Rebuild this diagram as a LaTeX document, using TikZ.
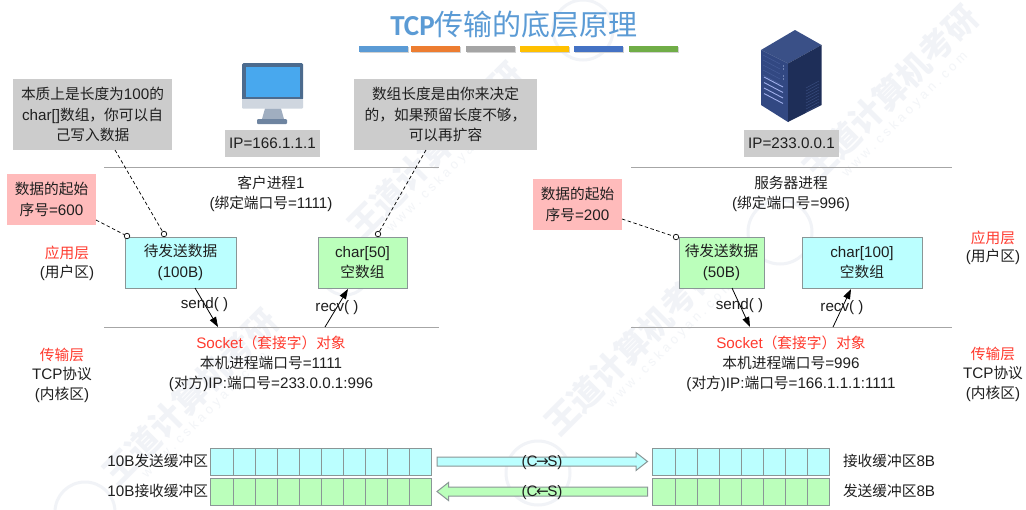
\documentclass[tikz,border=0pt]{standalone}
\usepackage{fontspec}
\setmainfont{Liberation Sans}
\newfontfamily\cjk{Noto Sans CJK SC}
\newcommand{\zh}[1]{{\cjk\fontsize{14.7}{20.5}\selectfont #1}}
\usetikzlibrary{arrows.meta}
\definecolor{cyanbox}{HTML}{BBFFFF}
\definecolor{greenbox}{HTML}{BBFFBB}
\definecolor{pinkbox}{HTML}{FFBBBB}
\definecolor{greybox}{HTML}{CCCCCC}
\definecolor{rulegrey}{HTML}{A6A6A6}
\definecolor{edgegrey}{HTML}{8A9696}
\definecolor{titleblue}{HTML}{5B9BD5}
\definecolor{redtext}{HTML}{FF3B2F}
\definecolor{wm}{HTML}{F1F3F7}
\definecolor{wmtext}{HTML}{F3F5F8}
\tikzset{
  x=1pt,y=-1pt,
  every node/.style={font=\fontsize{15.2}{20.5}\selectfont,inner sep=0pt,outer sep=0pt,align=center,text=black!88},
  redlabel/.style={text=redtext},
  note/.style={fill=greybox},
  pink/.style={fill=pinkbox},
  cellbox/.style={draw=edgegrey,line width=1pt},
  cyanb/.style={cellbox,fill=cyanbox},
  greenb/.style={cellbox,fill=greenbox},
  rule/.style={draw=rulegrey,line width=1pt},
  dashlink/.style={dashed,dash pattern=on 3.5pt off 2.5pt,line width=.7pt,black},
  pin/.style={circle,draw=black,fill=white,line width=.7pt,minimum size=5.5pt},
  callarrow/.style={-{Triangle[length=10pt,width=7pt]},line width=.8pt,black},
  wmark/.style={rotate=45,font=\cjk\bfseries\fontsize{33}{33}\selectfont,text=wm},
  wmurl/.style={rotate=45,font=\fontsize{13}{13}\selectfont,text=wmtext},
  stamp/.style={draw=wm,line width=3pt,circle},
}
\begin{document}
\begin{tikzpicture}
\clip (0,0) rectangle (1026,509);
\fill[white] (0,0) rectangle (1026,509);
% watermark
\node[wmark] (wm1) at (435,150) {王道计算机考研};
\node[wmark] (wm2) at (190,397) {王道计算机考研};
\node[wmark] (wm3) at (632,347) {王道计算机考研};
\node[wmark] (wm4) at (890,93) {王道计算机考研};
\node[wmurl] (wu1) at (450,170) {w w w . c s k a o y a n . c o m};
\node[wmurl] (wu2) at (205,415) {w w w . c s k a o y a n . c o m};
\node[wmurl] (wu3) at (670,345) {w w w . c s k a o y a n . c o m};
\node[wmurl] (wu4) at (905,115) {w w w . c s k a o y a n . c o m};
\node[stamp,minimum size=60pt] (st1) at (583,30) {};
\node[stamp,minimum size=64pt] (st2) at (780,232) {};
\node[stamp,minimum size=64pt] (st3) at (538,473) {};
\node[stamp,minimum size=60pt] (st4) at (85,512) {};
\node[stamp,minimum size=50pt] (st5) at (345,270) {};
% title
\node (title) at (514,25) {\fontsize{29}{30}\selectfont\color{titleblue}{\fontspec{Carlito}\bfseries TCP}{\cjk 传输的底层原理}};
\foreach \n/\a/\c in {1/359/5B9BD5,2/411/ED7D31,3/466/A5A5A5,4/520/FFC000,5/574/4472C4,6/629/70AD47}{
  \definecolor{barc}{HTML}{\c}
  \fill[black!18] (\a+.7,47) rectangle (\a+49.7,53);
  \fill[barc] (\a,46) rectangle (\a+49,52);
}
% monitor
\fill[rounded corners=1.5pt,fill={rgb,255:red,76;green,107;blue,142}] (242,63) rectangle (303,100);
\fill[fill={rgb,255:red,207;green,214;blue,223},rounded corners=1pt] (242,99) rectangle (303,108.5);
\fill[fill={rgb,255:red,72;green,168;blue,238}] (246,67) rectangle (299.5,96.5);
\fill[fill={rgb,255:red,160;green,174;blue,192}] (265,108.5) -- (281,108.5) -- (284,119) -- (262,119) -- cycle;
\fill[rounded corners=1pt,fill={rgb,255:red,110;green,132;blue,160}] (257,119) rectangle (287,124);
% server
\fill[fill={rgb,255:red,58;green,80;blue,135}] (795,30) -- (821.5,45) -- (788,63.5) -- (761,50) -- cycle;
\fill[fill={rgb,255:red,50;green,72;blue,130}] (761,50) -- (788,63.5) -- (788,122) -- (761,105) -- cycle;
\fill[fill={rgb,255:red,30;green,46;blue,88}] (788,63.5) -- (821.5,45) -- (821.5,105) -- (788,122) -- cycle;
\foreach \d in {0,5.5,11,16.5}{
  \draw[line width=.9pt,color={rgb,255:red,160;green,175;blue,235}] (764,77+\d) -- (783,87+\d);
}
\foreach \d in {0,3,6,9,12,15,18,21,24}{
  \draw[line width=.5pt,color={rgb,255:red,55;green,75;blue,125}] (806,88+\d) -- (819,81+\d);
}
\foreach \d in {0,3,10,13}{
  \fill[color={rgb,255:red,175;green,190;blue,230}] (783.5,66+\d) circle (.7);
}
\foreach \d in {0,5,10,15,20}{
  \draw[line width=.4pt,color={rgb,255:red,72;green,95;blue,155}] (763,55+\d) -- (780,64+\d);
}
% IP boxes
\node[note,minimum width=95pt,minimum height=27pt] (ipc) at (272.5,143.5) {IP=166.1.1.1};
\node[note,minimum width=95pt,minimum height=27pt] (ips) at (791.5,143.5) {IP=233.0.0.1};
% notes
\node[note,minimum width=159pt,minimum height=71pt] (noteL) at (92.5,114.5) {\zh{本质上是长度为}100\zh{的}\\char[]\zh{数组，你可以自}\\\zh{己写入数据}};
\node[note,minimum width=183pt,minimum height=71pt] (noteR) at (445.5,114.5) {\zh{数组长度是由你来决定}\\\zh{的，如果预留长度不够，}\\\zh{可以再扩容}};
\node[pink,minimum width=89pt,minimum height=51pt] (pinkL) at (51.5,199.5) {\zh{数据的起始}\\\zh{序号}=600};
\node[pink,minimum width=89pt,minimum height=51pt] (pinkR) at (577.5,204.5) {\zh{数据的起始}\\\zh{序号}=200};
% rules
\coordinate (r1a) at (104,167); \coordinate (r1b) at (439,167);
\coordinate (r2a) at (104,327); \coordinate (r2b) at (439,327);
\coordinate (r3a) at (631,167); \coordinate (r3b) at (952,167);
\coordinate (r4a) at (631,327); \coordinate (r4b) at (952,327);
\draw[rule] (r1a) -- (r1b);
\draw[rule] (r2a) -- (r2b);
\draw[rule] (r3a) -- (r3b);
\draw[rule] (r4a) -- (r4b);
% process labels
\node (procC) at (271,194) {\zh{客户进程}1\\(\zh{绑定端口号}=1111)};
\node (procS) at (791,194) {\zh{服务器进程}\\(\zh{绑定端口号}=996)};
% data boxes
\node[cyanb,minimum width=111pt,minimum height=51pt] (sendC) at (180.5,262.5) {\zh{待发送数据}\\(100B)};
\node[greenb,minimum width=89pt,minimum height=51pt] (recvC) at (362.5,262.5) {char[50]\\\zh{空数组}};
\node[greenb,minimum width=85pt,minimum height=51pt] (sendS) at (721.5,262.5) {\zh{待发送数据}\\(50B)};
\node[cyanb,minimum width=120pt,minimum height=51pt] (recvS) at (862,262.5) {char[100]\\\zh{空数组}};
% pins and dashed links
\node[pin] (p1) at (164,234) {};
\node[pin] (p2) at (127,236) {};
\node[pin] (p3) at (378,234) {};
\node[pin] (p4) at (676,237) {};
\coordinate (d1) at (115,150); \coordinate (d2) at (96,220);
\coordinate (d3) at (426,150); \coordinate (d4) at (622,219);
\draw[dashlink] (d1) -- (p1);
\draw[dashlink] (d2) -- (p2);
\draw[dashlink] (d3) -- (p3);
\draw[dashlink] (d4) -- (p4);
% send / recv
\coordinate (a1) at (195,288); \coordinate (a2) at (218,327);
\coordinate (a3) at (325,327); \coordinate (a4) at (348,289);
\coordinate (a5) at (732,288); \coordinate (a6) at (750,327);
\coordinate (a7) at (833,327); \coordinate (a8) at (851,289);
\draw[callarrow] (a1) -- (a2);
\draw[callarrow] (a3) -- (a4);
\draw[callarrow] (a5) -- (a6);
\draw[callarrow] (a7) -- (a8);
\node (s1) at (204.5,305) {send( )};
\node (s2) at (337,308) {recv( )};
\node (s3) at (739.5,306) {send( )};
\node (s4) at (842,308) {recv( )};
% layer labels
\node[redlabel] (l1) at (67,253) {\zh{应用层}};
\node (l2) at (67,273) {(\zh{用户区})};
\node[redlabel] (l3) at (993,238) {\zh{应用层}};
\node (l4) at (993,257) {(\zh{用户区})};
\node[redlabel] (l5) at (62,355) {\zh{传输层}};
\node (l6) at (62,385) {TCP\zh{协议}\\(\zh{内核区})};
\node[redlabel] (l7) at (993,354) {\zh{传输层}};
\node (l8) at (993,384) {TCP\zh{协议}\\(\zh{内核区})};
% socket
\node[redlabel] (k1) at (271,343) {Socket\zh{（套接字）对象}};
\node (k2) at (271,374) {\zh{本机进程端口号}=1111\\(\zh{对方})IP:\zh{端口号}=233.0.0.1:996};
\node[redlabel] (k3) at (791,343) {Socket\zh{（套接字）对象}};
\node (k4) at (791,374) {\zh{本机进程端口号}=996\\(\zh{对方})IP:\zh{端口号}=166.1.1.1:1111};
% buffers
\foreach \i in {0,...,9}{
  \node[cyanb,minimum width=22.1pt,minimum height=27pt] (bsL\i) at (222+22.1*\i,461.5) {};
  \node[greenb,minimum width=22.1pt,minimum height=27pt] (brL\i) at (222+22.1*\i,491.5) {};
}
\foreach \i in {0,...,7}{
  \node[cyanb,minimum width=22.1pt,minimum height=27pt] (brR\i) at (664+22.1*\i,461.5) {};
  \node[greenb,minimum width=22.1pt,minimum height=27pt] (bsR\i) at (664+22.1*\i,491.5) {};
}
\node[anchor=east] (b1) at (208,461) {10B\zh{发送缓冲区}};
\node[anchor=east] (b2) at (208,491) {10B\zh{接收缓冲区}};
\node[anchor=west] (b3) at (843,461) {\zh{接收缓冲区}8B};
\node[anchor=west] (b4) at (843,491) {\zh{发送缓冲区}8B};
% block arrows
\draw[cellbox,fill=cyanbox] (437,457) -- (636,457) -- (636,452.5) -- (647.5,461.5) -- (636,470.5) -- (636,466) -- (437,466) -- cycle;
\draw[cellbox,fill=greenbox] (647.5,487) -- (448.5,487) -- (448.5,482.5) -- (437,491.5) -- (448.5,500.5) -- (448.5,496) -- (647.5,496) -- cycle;
\node[anchor=base] (c1) at (542,466.5) {(C\kern-1.5pt{\fontspec{DejaVu Sans}→}\kern-1.5pt S)};
\node[anchor=base] (c2) at (542,496.5) {(C\kern-1.5pt{\fontspec{DejaVu Sans}←}\kern-1.5pt S)};
\end{tikzpicture}
\end{document}
